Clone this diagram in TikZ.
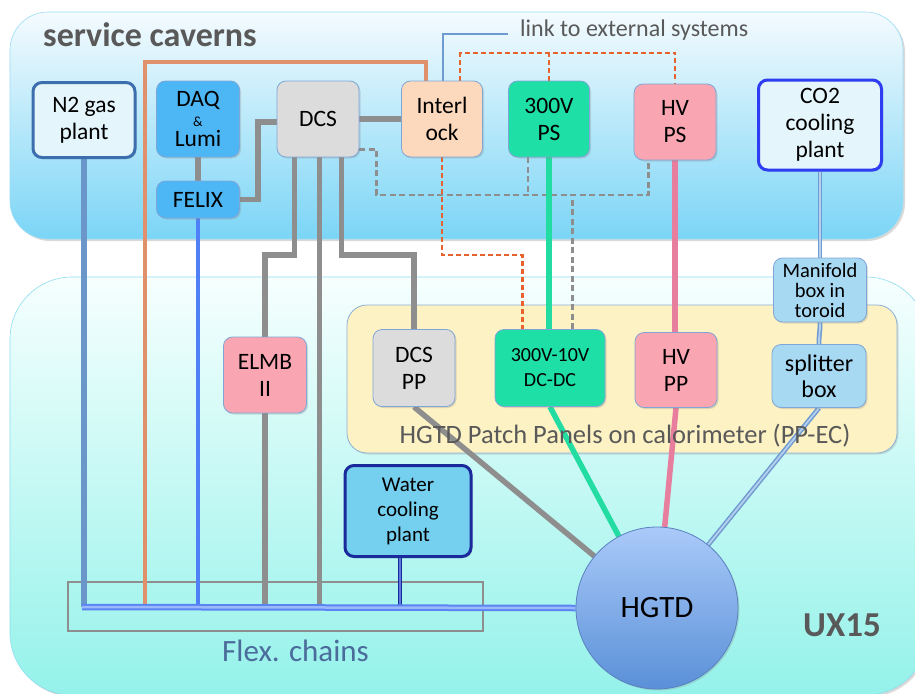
\documentclass[tikz,border=0pt]{standalone}
\usepackage{fontspec}
\setmainfont{Carlito}
\usetikzlibrary{calc,shadows}
\pgfdeclarelayer{backdrop}
\pgfdeclarelayer{wires}
\pgfsetlayers{backdrop,wires,main}

% palette
\definecolor{skytop}{HTML}{F4FBFE}
\definecolor{skybot}{HTML}{7BD5F6}
\definecolor{bandedge}{HTML}{9BDDF5}
\definecolor{aquatop}{HTML}{F6FFFE}
\definecolor{aquabot}{HTML}{94F2EA}
\definecolor{aquaedge}{HTML}{8FDDF0}
\definecolor{panelfill}{HTML}{FDF2C3}
\definecolor{paneledge}{HTML}{8FB0D6}
\definecolor{boxedge}{HTML}{7FA6D6}
\definecolor{n2edge}{HTML}{3D6FAE}
\definecolor{paleblue}{HTML}{E4F5FC}
\definecolor{daqfill}{HTML}{4DB7F5}
\definecolor{dcsfill}{HTML}{DCDCDC}
\definecolor{ilkfill}{HTML}{FCD8BC}
\definecolor{grnfill}{HTML}{1EDFA6}
\definecolor{pinkfill}{HTML}{F9A6B2}
\definecolor{co2edge}{HTML}{2E3DF2}
\definecolor{manfill}{HTML}{A8D9F3}
\definecolor{waterfill}{HTML}{74D0EE}
\definecolor{wateredge}{HTML}{1B2A9B}
\definecolor{hgtdtop}{HTML}{AACAF9}
\definecolor{hgtdbot}{HTML}{5A90D8}
\definecolor{hgtdedge}{HTML}{5B80C0}
\definecolor{wiregray}{HTML}{8E8E8E}
\definecolor{wireorange}{HTML}{E0916C}
\definecolor{dashorange}{HTML}{E8622D}
\definecolor{wirefelix}{HTML}{4F80F5}
\definecolor{wiren2}{HTML}{6A96CA}
\definecolor{wiregreen}{HTML}{22DCA2}
\definecolor{wirepink}{HTML}{E77E9D}
\definecolor{steel}{HTML}{6E9BD0}
\definecolor{steellight}{HTML}{B5D0EE}
\definecolor{bus}{HTML}{5A84F3}
\definecolor{buslight}{HTML}{9AB8FA}
\definecolor{waterlight}{HTML}{5C78D8}
\definecolor{labelgray}{HTML}{595959}
\definecolor{flexblue}{HTML}{4B6C9B}

\begin{document}
\begin{tikzpicture}[x=1pt,y=-1pt,
  softshadow/.style={drop shadow={shadow xshift=1.5pt,shadow yshift=-1.5pt,opacity=0.25}},
  box/.style={draw=boxedge,line width=0.8pt,rounded corners=9pt,align=center,
    inner sep=0pt,font=\fontsize{23.5}{27}\selectfont,softshadow},
  plantbox/.style={box,line width=3pt},
  graywire/.style={draw=wiregray,line width=5.5pt},
  orangewire/.style={draw=wireorange,line width=4.5pt},
  felixwire/.style={draw=wirefelix,line width=4.5pt},
  n2wire/.style={draw=wiren2,line width=5.5pt},
  greenwire/.style={draw=wiregreen,line width=5.5pt},
  pinkwire/.style={draw=wirepink,line width=5.5pt},
  linkwire/.style={draw=steel,line width=2.2pt},
  odash/.style={draw=dashorange,line width=2.3pt,dash pattern=on 5pt off 3pt},
  gdash/.style={draw=wiregray,line width=2.7pt,dash pattern=on 6pt off 3.5pt},
  steelwire/.style={draw=steel,double=steellight,line width=1.5pt,double distance=1.8pt},
  buswire/.style={draw=bus,double=buslight,line width=2pt,double distance=2.5pt},
  waterwire/.style={draw=wateredge,double=waterlight,line width=1.5pt,double distance=1.4pt},
  label/.style={text=labelgray,inner sep=0pt}]

\useasboundingbox (0,0) rectangle (915,693);

% ---- areas ----
\begin{pgfonlayer}{backdrop}
  \path[draw=bandedge,line width=0.6pt,rounded corners=38pt,top color=skytop,bottom color=skybot,
        drop shadow={shadow xshift=2pt,shadow yshift=-2pt,opacity=0.3}]
        (10,12) rectangle (903,239);
  \path[draw=aquaedge,line width=0.6pt,rounded corners=62pt,top color=aquatop,bottom color=aquabot,
        drop shadow={shadow xshift=2pt,shadow yshift=-2pt,opacity=0.3}]
        (10,277) rectangle (928,695);
  \path[draw=paneledge,line width=0.8pt,rounded corners=20pt,fill=panelfill,softshadow]
        (347,305) rectangle (897,453);
\end{pgfonlayer}

% ---- titles ----
\node[label,anchor=base west,font=\bfseries\fontsize{34}{40}\selectfont] (svc) at (43,47) {service caverns};
\node[label,anchor=base west,font=\bfseries\fontsize{35}{40}\selectfont] (ux) at (803,636) {UX15};
\node[label,anchor=base west,font=\fontsize{24}{28}\selectfont] (linktxt) at (520,37) {link to external systems};
\node[label,anchor=base,font=\fontsize{26.5}{30}\selectfont] (pptxt) at (625,443) {HGTD Patch Panels on calorimeter (PP-EC)};
\node[anchor=base west,inner sep=0pt,text=flexblue,font=\fontsize{31}{36}\selectfont] (flextxt) at (222,661) {Flex. chains};

% ---- service cavern equipment ----
\node[plantbox,draw=n2edge,fill=paleblue,minimum width=102pt,minimum height=75pt] (n2) at (84,120) {N2 gas\\plant};
\node[box,fill=daqfill,minimum width=83pt,minimum height=76pt,font=\fontsize{23.5}{19}\selectfont] (daq) at (198,119)
  {DAQ\\[1pt]{\fontsize{14}{19}\selectfont\&}\\[1pt]Lumi};
\node[box,fill=daqfill,minimum width=83pt,minimum height=37pt] (felix) at (198,199.5) {FELIX};
\node[box,fill=dcsfill,minimum width=82pt,minimum height=76pt] (dcs) at (318,119) {DCS};
\node[box,fill=ilkfill,minimum width=81pt,minimum height=76pt] (ilk) at (442,119) {Interl\\ock};
\node[box,fill=grnfill,minimum width=81pt,minimum height=76pt] (ps300) at (549,119) {300V\\PS};
\node[box,fill=pinkfill,minimum width=82pt,minimum height=76pt] (hvps) at (675,122) {HV\\PS};
\node[plantbox,draw=co2edge,fill=paleblue,minimum width=123pt,minimum height=90pt] (co2) at (820,125) {CO2\\cooling\\plant};

% ---- experimental cavern equipment ----
\node[box,fill=pinkfill,minimum width=83pt,minimum height=76pt] (elmb) at (265,375) {ELMB\\II};
\node[box,fill=dcsfill,minimum width=82pt,minimum height=77pt] (dcspp) at (414,368) {DCS\\PP};
\node[box,fill=grnfill,minimum width=110pt,minimum height=77pt,font=\fontsize{20}{25}\selectfont] (dcdc) at (550,368) {300V-10V\\DC-DC};
\node[box,fill=pinkfill,minimum width=82pt,minimum height=75pt] (hvpp) at (676,370) {HV\\PP};
\node[box,fill=manfill,minimum width=93pt,minimum height=64pt,font=\fontsize{20.5}{20}\selectfont] (manifold) at (820,290) {Manifold\\box in\\toroid};
\node[box,fill=manfill,minimum width=94pt,minimum height=63pt,font=\fontsize{24}{26}\selectfont] (splitter) at (819,376) {splitter\\box};
\node[plantbox,draw=wateredge,fill=waterfill,minimum width=126pt,minimum height=91pt,font=\fontsize{21}{25}\selectfont] (water) at (408,511) {Water\\cooling\\plant};
\node[circle,draw=hgtdedge,line width=0.8pt,top color=hgtdtop,bottom color=hgtdbot,minimum size=162pt,
      inner sep=0pt,font=\fontsize{31}{36}\selectfont,softshadow] (hgtd) at (657,608) {HGTD};

% ---- cabling ----
\begin{pgfonlayer}{wires}
  \coordinate (busY) at (0,607);
  \coordinate (rowS) at (0,255);
  \coordinate (rowD) at (0,195);
  \coordinate (rowT) at (0,53);
  \coordinate (rowO) at (0,62);
  \coordinate (orX) at (145,0);
  \coordinate (ext) at (508,34);

  \node[draw=wiregray,line width=1.5pt,minimum width=415pt,minimum height=49pt,inner sep=0pt] (flex) at (275.5,606.5) {};

  % supplies into the flex chains
  \draw[n2wire] (n2.south) -- (n2.south |- busY);
  \draw[felixwire] (felix.south) -- (felix.south |- busY);
  \coordinate (ilkO) at ($(ilk.north west)+(25,0)$);
  \draw[orangewire] (ilkO) |- (rowO -| orX) -- (orX |- busY);

  % link to external systems
  \coordinate (ilkL) at ($(ilk.north)+(1,0)$);
  \draw[linkwire] (ilkL) |- (ext);

  % interlock signals
  \coordinate (ilkD) at ($(ilk.north west)+(59,0)$);
  \draw[odash] (ilkD) |- (rowT -| hvps.north) -- (hvps.north);
  \draw[odash] (ps300.north) -- (ps300.north |- rowT);
  \coordinate (dcdcO) at ($(dcdc.north west)+(28,0)$);
  \draw[odash] (ilk.south) |- (rowS -| dcdcO) -- (dcdcO);

  % DCS control of the supplies
  \coordinate (dcsD) at ($(dcs.south east)+(0,-8)$);
  \coordinate (psG) at ($(ps300.south west)+(20,0)$);
  \coordinate (hvG) at ($(hvps.south west)+(15,0)$);
  \coordinate (dcdcG) at ($(dcdc.north west)+(78,0)$);
  \draw[gdash] (dcsD) -- ++(17,0) |- (rowD -| hvG) -- (hvG);
  \draw[gdash] (psG) -- (psG |- rowD);
  \draw[gdash] (dcdcG) -- (dcdcG |- rowD);

  % DCS network
  \draw[graywire] (daq.south) -- (felix.north);
  \draw[graywire] (felix.east) -- ++(18,0) |- ($(dcs.west)+(0,3)$);
  \draw[graywire] (dcs.east) -- (ilk.west);
  \coordinate (dcsA) at ($(dcs.south west)+(18,0)$);
  \coordinate (dcsB) at ($(dcs.south west)+(43,0)$);
  \coordinate (dcsC) at ($(dcs.south west)+(65,0)$);
  \draw[graywire] (dcsA) |- (rowS -| elmb.north) -- (elmb.north);
  \draw[graywire] (dcsB) -- (dcsB |- busY);
  \draw[graywire] (dcsC) |- (rowS -| dcspp.north) -- (dcspp.north);
  \draw[graywire] (elmb.south) -- (elmb.south |- busY);

  % power and cooling
  \draw[greenwire] (ps300.south) -- (ps300.south |- dcdc.north);
  \draw[pinkwire] (hvps.south) -- (hvps.south |- hvpp.north);
  \draw[steelwire] (co2.south) -- (manifold.north);
  \draw[steelwire] (manifold.south) .. controls +(0,14) and +(0,-14) .. (splitter.north);
  \coordinate (waterW) at ($(water.south)+(-8,0)$);
  \draw[waterwire] (waterW) -- (waterW |- busY);

  % patch panels to the detector
  \draw[graywire] (dcspp.south) -- (hgtd);
  \draw[greenwire] (dcdc.south) -- (hgtd);
  \draw[pinkwire] (hvpp.south) -- (hgtd);
  \draw[steelwire] (splitter.south) -- (hgtd);

  % flex chain bundle
  \draw[buswire] ($(n2.south |- busY)+(-2,0)$) -- (hgtd.west);
\end{pgfonlayer}
\end{tikzpicture}
\end{document}
